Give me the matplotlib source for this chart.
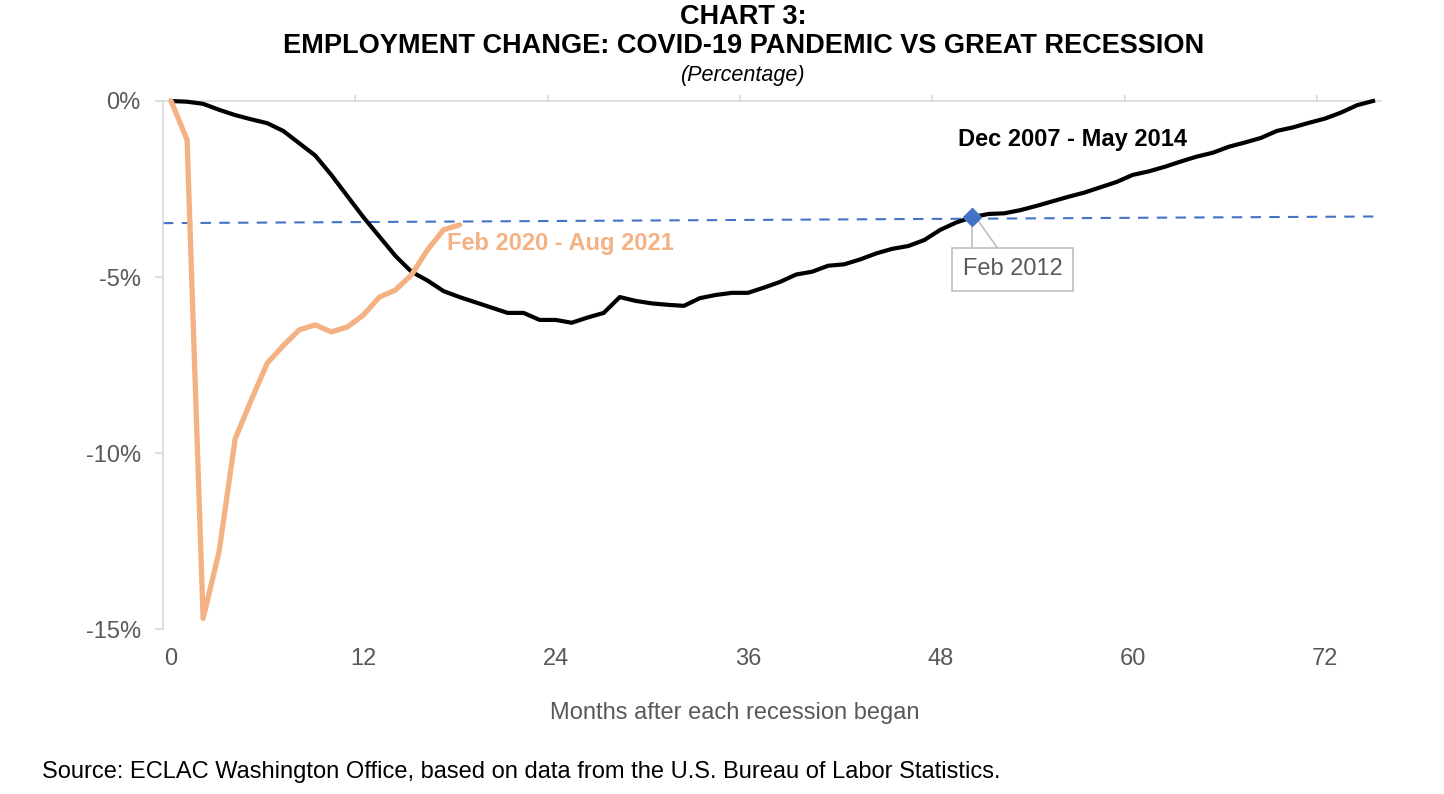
import numpy as np
import matplotlib.pyplot as plt
from matplotlib.ticker import FixedLocator

plt.rcParams['font.family'] = ['Liberation Sans', 'DejaVu Sans']

# Great Recession, months 0..75 after Dec 2007 (percent change in employment)
gr_months = list(range(76))
gr_change = [0.0, -0.02, -0.08, -0.25, -0.4, -0.52, -0.63, -0.85, -1.2, -1.55,
             -2.1, -2.7, -3.3, -3.85, -4.4, -4.85, -5.1, -5.4, -5.57, -5.72,
             -5.87, -6.02, -6.02, -6.22, -6.22, -6.3, -6.15, -6.02, -5.57, -5.68,
             -5.75, -5.79, -5.82, -5.6, -5.51, -5.45, -5.45, -5.3, -5.14, -4.93,
             -4.85, -4.68, -4.64, -4.5, -4.33, -4.2, -4.12, -3.95, -3.66, -3.45,
             -3.3, -3.21, -3.19, -3.1, -2.98, -2.85, -2.72, -2.6, -2.45, -2.3,
             -2.1, -2.0, -1.87, -1.72, -1.58, -1.47, -1.3, -1.18, -1.05, -0.85,
             -0.75, -0.62, -0.5, -0.33, -0.12, 0.0]

# COVID-19, months 0..18 after Feb 2020
cv_months = list(range(19))
cv_change = [0.0, -1.1, -14.7, -12.8, -9.6, -8.5, -7.45, -6.95, -6.5, -6.36,
             -6.56, -6.42, -6.08, -5.57, -5.37, -4.94, -4.23, -3.66, -3.52]

# reference level (dashed) and marked point
ref_x = [-0.5, 75.5]
ref_y = [-3.47, -3.28]
mark_month = 50
mark_label = 'Feb 2012'

xticks = [0, 12, 24, 36, 48, 60, 72]
yticks = [0, -5, -10, -15]
ytick_labels = ['0%', '-5%', '-10%', '-15%']

orange = '#F4B183'
blue = '#4472C4'
gray_txt = '#595959'
gray_ln = '#D9D9D9'

fig = plt.figure(figsize=(14.44, 7.94), dpi=100)
ax = fig.add_axes([0.1129, 0.2078, 0.8435, 0.665])

ax.plot(ref_x, ref_y, color=blue, lw=1.5, ls=(0, (5, 4)), zorder=2)
ax.plot(gr_months, gr_change, color='black', lw=3.0, zorder=3, clip_on=False,
        solid_joinstyle='round')
ax.plot(cv_months, cv_change, color=orange, lw=3.8, zorder=4, clip_on=False,
        solid_joinstyle='round', solid_capstyle='round')
ax.plot([mark_month], [gr_change[mark_month]], marker='D', ms=9, color=blue,
        zorder=5, ls='none')

ax.set_xlim(-0.5, 75.5)
ax.set_ylim(-15, 0)

ax.set_xticks(xticks)
ax.set_xticklabels([str(t) for t in xticks])
ax.xaxis.set_minor_locator(FixedLocator([11.5, 23.5, 35.5, 47.5, 59.5, 71.5]))
ax.tick_params(axis='x', which='major', length=0, pad=14, labelsize=17,
               labelcolor=gray_txt)
ax.tick_params(axis='x', which='minor', bottom=False, top=True, direction='out',
               length=4, color=gray_ln, width=1.2)

ax.set_yticks(yticks)
ax.set_yticklabels(ytick_labels)
ax.tick_params(axis='y', length=6, color=gray_ln, width=1.2, pad=10,
               labelsize=17, labelcolor=gray_txt)

for s in ['right', 'bottom']:
    ax.spines[s].set_visible(False)
ax.spines['left'].set_color(gray_ln)
ax.spines['left'].set_linewidth(1.2)
ax.spines['top'].set_color(gray_ln)
ax.spines['top'].set_linewidth(1.2)

fig.text(0.509, 0.102, 'Months after each recession began', fontsize=17,
         color=gray_txt, ha='center', va='center')

# series labels
ax.text(49.1, -1.09, 'Dec 2007 - May 2014', fontsize=17, fontweight='bold',
        color='black', va='center', ha='left')
ax.text(17.2, -4.05, 'Feb 2020 - Aug 2021', fontsize=17, fontweight='bold',
        color=orange, va='center', ha='left')

# callout for Feb 2012
my = gr_change[mark_month]
ax.plot([mark_month, mark_month], [my, -4.26], color='#BFBFBF', lw=1.2, zorder=1)
ax.plot([mark_month + 0.2, mark_month + 1.7], [my, -4.26], color='#BFBFBF',
        lw=1.2, zorder=1)
ax.text(mark_month + 2.5, -4.78, mark_label, fontsize=17, color=gray_txt,
        ha='center', va='center',
        bbox=dict(boxstyle='square,pad=0.45', fc='white', ec='#BFBFBF', lw=1.2))

fig.text(0.515, 0.978, 'CHART 3:', ha='center', va='center', fontsize=19.5,
         fontweight='bold')
fig.text(0.515, 0.942, 'EMPLOYMENT CHANGE: COVID-19 PANDEMIC VS GREAT RECESSION',
         ha='center', va='center', fontsize=19.5, fontweight='bold')
fig.text(0.515, 0.905, '(Percentage)', ha='center', va='center', fontsize=15.5,
         style='italic')
fig.text(0.029, 0.028, 'Source: ECLAC Washington Office, based on data from the '
         'U.S. Bureau of Labor Statistics.', ha='left', va='center', fontsize=17)

fig.savefig('out.png', dpi=100)
